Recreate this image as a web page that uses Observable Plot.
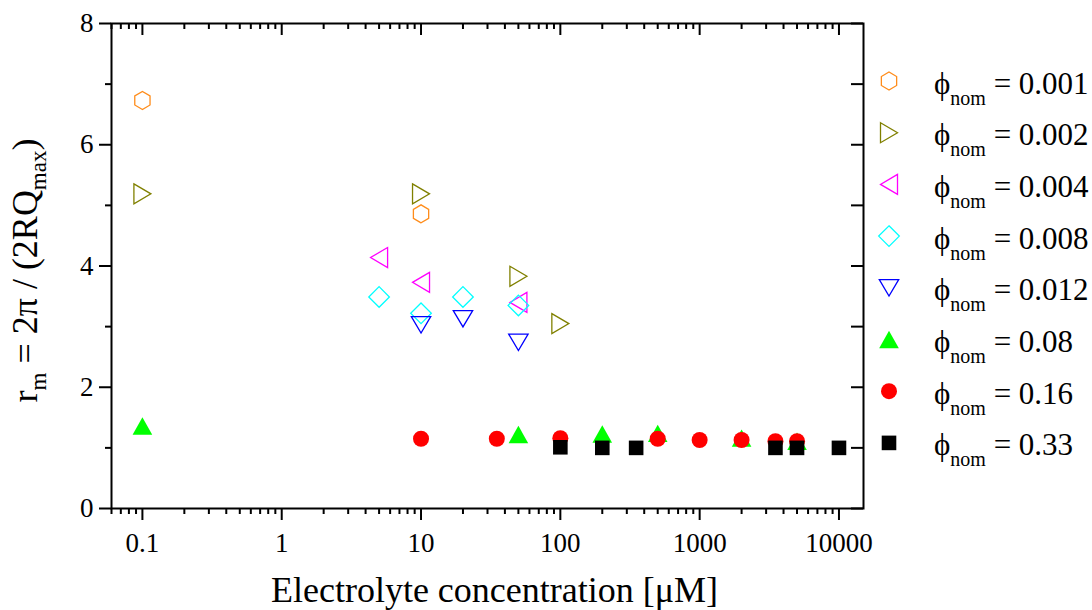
<!DOCTYPE html>
<html><head><meta charset="utf-8">
<script src="https://cdn.jsdelivr.net/npm/d3@7"></script>
<script src="https://cdn.jsdelivr.net/npm/@observablehq/plot@0.6"></script>
<style>
body{margin:0;background:#fff;}
#chart{position:relative;width:1092px;height:610px;}
</style></head><body><div id="chart"></div>
<script>
// ---- data ----
const seriesLabels = ["0.001","0.002","0.004","0.008","0.012","0.08","0.16","0.33"];
const seriesColors = ["#ff8c1a","#808000","#ff00ff","#00ffff","#0000ff","#00ff00","#ff0000","#000000"];
const seriesFilled = [false,false,false,false,false,true,true,true];

const conc_0001 = [0.1, 10];
const rm_0001   = [6.73, 4.86];
const conc_0002 = [0.1, 10, 50, 100];
const rm_0002   = [5.19, 5.19, 3.83, 3.05];
const conc_0004 = [5, 10, 50];
const rm_0004   = [4.14, 3.73, 3.40];
const conc_0008 = [5, 10, 20, 50];
const rm_0008   = [3.49, 3.22, 3.49, 3.35];
const conc_0012 = [10, 20, 50];
const rm_0012   = [3.03, 3.13, 2.74];
const conc_008  = [0.1, 50, 200, 500, 2000, 5000];
const rm_008    = [1.36, 1.22, 1.23, 1.24, 1.16, 1.11];
const conc_016  = [10, 35, 100, 500, 1000, 2000, 3500, 5000];
const rm_016    = [1.15, 1.15, 1.16, 1.15, 1.13, 1.13, 1.11, 1.11];
const conc_033  = [100, 200, 350, 3500, 5000, 10000];
const rm_033    = [1.01, 1.00, 1.00, 1.00, 1.00, 1.00];

const xTickValues = [0.1, 1, 10, 100, 1000, 10000];
const xTickLabels = ["0.1", "1", "10", "100", "1000", "10000"];
const yTickValues = [0, 2, 4, 6, 8];
const yMinorValues = [1, 3, 5, 7];

const xLabel = "Electrolyte concentration [\u03BCM]";

// ---- build table ----
const concs = [conc_0001, conc_0002, conc_0004, conc_0008, conc_0012, conc_008, conc_016, conc_033];
const rms   = [rm_0001, rm_0002, rm_0004, rm_0008, rm_0012, rm_008, rm_016, rm_033];
const series = seriesLabels.map((s, i) => concs[i].map((c, j) => ({series: s, conc: c, rm: rms[i][j]})));

// minor log ticks
const xMinor = [];
for (let k = -2; k <= 4; k++) for (let m = 2; m <= 9; m++) {
  const v = +(m * Math.pow(10, k)).toPrecision(6);
  if (v >= 0.06 && v <= 15000) xMinor.push(v);
}

// ---- custom marker shapes ----
const poly = (pts) => ({draw(ctx) { ctx.moveTo(pts[0][0], pts[0][1]); for (let i = 1; i < pts.length; i++) ctx.lineTo(pts[i][0], pts[i][1]); ctx.closePath(); }});
const R = 9;
const symHex = poly(d3.range(6).map(i => { const a = Math.PI / 2 + i * Math.PI / 3; return [R * Math.cos(a) * 0.98, R * Math.sin(a)]; }));
const symRight = poly([[-8.5, -10], [8.5, 0], [-8.5, 10]]);
const symLeft = poly([[8.5, -10], [-8.5, 0], [8.5, 10]]);
const symDiamond = poly([[0, -10.3], [10.3, 0], [0, 10.3], [-10.3, 0]]);
const symDown = poly([[-9.7, -8.2], [9.7, -8.2], [0, 8.2]]);
const symUp = poly([[0, -8.7], [9.8, 8.7], [-9.8, 8.7]]);
const symCircle = {draw(ctx) { ctx.moveTo(8, 0); ctx.arc(0, 0, 8, 0, 2 * Math.PI); }};
const symSquare = poly([[-7.3, -7.3], [7.3, -7.3], [7.3, 7.3], [-7.3, 7.3]]);
const seriesSymbols = [symHex, symRight, symLeft, symDiamond, symDown, symUp, symCircle, symSquare];

const FONT = "'Liberation Serif', 'Times New Roman', serif";
const W = 1092, H = 610, mL = 111, mR = 229, mT = 23, mB = 102;
const pw = W - mL - mR, ph = H - mT - mB;

const dotMarks = series.map((rows, i) => Plot.dot(rows, {
  x: "conc", y: "rm", r: 1, symbol: seriesSymbols[i],
  stroke: seriesFilled[i] ? "none" : seriesColors[i],
  fill: seriesFilled[i] ? seriesColors[i] : "none",
  strokeWidth: 1.3
}));

const plot = Plot.plot({
  width: W, height: H,
  marginLeft: mL, marginRight: mR, marginTop: mT, marginBottom: mB,
  style: {fontFamily: FONT, fontSize: "27px", color: "black", background: "white"},
  x: {type: "log", domain: [0.06, 15000]},
  y: {domain: [0, 8]},
  marks: [
    Plot.axisX({ticks: xTickValues, tickSize: 12, tickPadding: 12, strokeWidth: 2, fontSize: 27, fontFamily: FONT,
      tickFormat: d => xTickLabels[xTickValues.indexOf(d)], label: null}),
    Plot.axisX({ticks: xMinor, tickSize: 6, strokeWidth: 2, tickFormat: () => "", label: null}),
    Plot.axisY({ticks: yTickValues, tickSize: 12, tickPadding: 6, strokeWidth: 2, fontSize: 27, fontFamily: FONT, label: null}),
    Plot.axisY({ticks: yMinorValues, tickSize: 6, strokeWidth: 2, tickFormat: () => "", label: null}),
    Plot.tickX(xTickValues, {x: d => d, insetBottom: ph - 12, strokeWidth: 2}),
    Plot.tickX(xMinor, {x: d => d, insetBottom: ph - 6, strokeWidth: 2}),
    Plot.tickY(yTickValues.concat(yMinorValues), {y: d => d, insetLeft: pw - 12, strokeWidth: 2}),
    Plot.frame({strokeWidth: 2}),
    Plot.text([xLabel], {text: d => d, frameAnchor: "bottom", lineAnchor: "bottom", dy: 93, dx: 7, fontSize: 36, fontFamily: FONT}),
    ...dotMarks
  ]
});
document.getElementById("chart").appendChild(plot);

const svg = d3.select(plot);

// ---- y axis label with subscripts ----
const yl = svg.append("text")
  .attr("transform", `translate(37,${mT + ph / 2 + 5}) rotate(-90)`)
  .attr("text-anchor", "middle")
  .attr("font-family", FONT)
  .attr("font-size", 36)
  .attr("fill", "black");
yl.append("tspan").text("r");
yl.append("tspan").attr("font-size", 23).attr("dy", 9).text("m");
yl.append("tspan").attr("dy", -9).text(" = 2\u03C0 / (2RQ");
yl.append("tspan").attr("font-size", 23).attr("dy", 9).text("max");
yl.append("tspan").attr("dy", -9).text(")");

// ---- legend ----
const lg = svg.append("g").attr("text-anchor", "start").attr("font-family", FONT);
seriesLabels.forEach((s, i) => {
  const cy = 81 + i * 51.7;
  lg.append("path")
    .attr("transform", `translate(889,${cy})`)
    .attr("d", d3.symbol(seriesSymbols[i])())
    .attr("fill", seriesFilled[i] ? seriesColors[i] : "none")
    .attr("stroke", seriesFilled[i] ? "none" : seriesColors[i])
    .attr("stroke-width", 1.3);
  const t = lg.append("text").attr("x", 934).attr("y", cy + 12.5).attr("font-size", 31).attr("fill", "black");
  t.append("tspan").text("\u03D5");
  t.append("tspan").attr("font-size", 20).attr("dy", 11).text("nom");
  t.append("tspan").attr("dy", -11).text(" = " + s);
});
</script></body></html>
